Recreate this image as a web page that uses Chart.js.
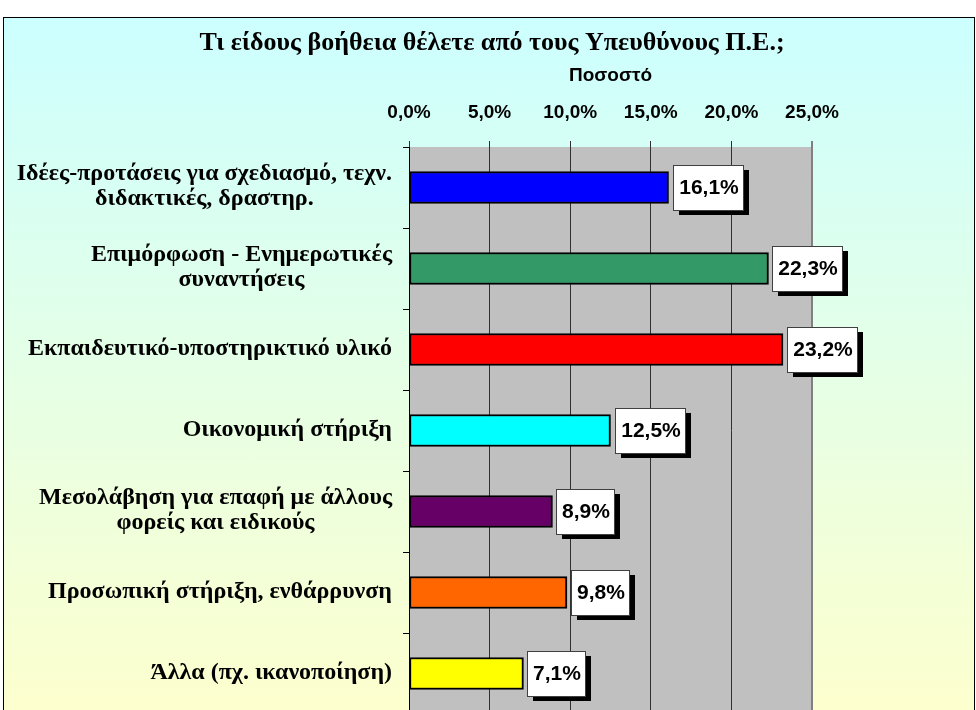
<!DOCTYPE html>
<html>
<head>
<meta charset="utf-8">
<script src="https://cdn.jsdelivr.net/npm/chart.js@4.4.1/dist/chart.umd.min.js"></script>
<style>
  html, body { margin: 0; padding: 0; background: #fff; overflow: hidden; width: 976px; height: 710px; }
  #frame {
    position: absolute; left: 3px; top: 17px; width: 970px; height: 720px;
    border: 1px solid #000;
    background: linear-gradient(to bottom, #CCFFFF 0%, #FFFFCC 100%);
  }
</style>
</head>
<body>
<div id="frame"><canvas id="view" width="970" height="720"></canvas></div>
<script>
// κατηγορίες (multi-line labels)
const categories = [
    ["Ιδέες-προτάσεις για σχεδιασμό, τεχν.", "διδακτικές, δραστηρ."],
    ["Επιμόρφωση - Ενημερωτικές", "συναντήσεις"],
    ["Εκπαιδευτικό-υποστηρικτικό υλικό"],
    ["Οικονομική στήριξη"],
    ["Μεσολάβηση για επαφή με άλλους", "φορείς και ειδικούς"],
    ["Προσωπική στήριξη, ενθάρρυνση"],
    ["Άλλα (πχ. ικανοποίηση)"]
];
// ποσοστά
const values = [16.1, 22.3, 23.2, 12.5, 8.9, 9.8, 7.1];
const barColors = ["#0000FF", "#339966", "#FF0000", "#00FFFF", "#660066", "#FF6600", "#FFFF00"];
const xTicks = [0, 5, 10, 15, 20, 25];
const chartTitle = "Τι είδους βοήθεια θέλετε από τους Υπευθύνους Π.Ε.;";

function pct(v) {
    return v.toFixed(1).replace('.', ',') + '%';
}

// γκρι φόντο στην περιοχή του γραφήματος + τίτλος στο κέντρο όλου του καμβά
const plotBg = {
    id: 'plotBg',
    beforeDraw(chart) {
        const a = chart.chartArea;
        const c = chart.ctx;
        c.save();
        c.fillStyle = '#C0C0C0';
        c.fillRect(a.left, a.top, a.right - a.left, a.bottom - a.top);
        c.font = 'bold 26px "Liberation Serif", "Times New Roman", serif';
        c.fillStyle = '#000';
        c.textAlign = 'center';
        c.textBaseline = 'middle';
        c.fillText(chartTitle, chart.width / 2 + 3, 25);
        c.restore();
    }
};

// ετικέτες κατηγοριών, κεντραρισμένες γραμμές, δεξιά στοιχισμένο μπλοκ
const catLabels = {
    id: 'catLabels',
    afterDraw(chart) {
        const c = chart.ctx;
        const ys = chart.scales.y;
        const rightEdge = ys.right - 17;
        c.save();
        c.font = 'bold 24px "Liberation Serif", "Times New Roman", serif';
        c.fillStyle = '#000';
        c.textBaseline = 'middle';
        c.textAlign = 'center';
        categories.forEach((lines, i) => {
            const yc = ys.getPixelForValue(i) - 1;
            let w = 0;
            lines.forEach(l => { w = Math.max(w, c.measureText(l).width); });
            const cx = rightEdge - w / 2;
            const lh = 25;
            const y0 = yc - (lines.length - 1) * lh / 2;
            lines.forEach((l, k) => c.fillText(l, cx, y0 + k * lh));
        });
        c.restore();
    }
};

// κουτιά με τις τιμές και σκιά
const valueBoxes = {
    id: 'valueBoxes',
    afterDatasetsDraw(chart) {
        const c = chart.ctx;
        const meta = chart.getDatasetMeta(0);
        c.save();
        c.font = 'bold 21px Arial, "Liberation Sans", sans-serif';
        c.textBaseline = 'middle';
        c.textAlign = 'center';
        meta.data.forEach((bar, i) => {
            const txt = pct(values[i]);
            const w = Math.round(c.measureText(txt).width) + 10;
            const h = 45;
            const x = Math.round(bar.x) + 4;
            const y = Math.round(bar.y) - 23;
            c.fillStyle = '#000';
            c.fillRect(x + 6, y + 5, w, h);
            c.fillStyle = '#fff';
            c.fillRect(x, y, w, h);
            c.strokeStyle = '#404040';
            c.lineWidth = 1;
            c.strokeRect(x + 0.5, y + 0.5, w, h);
            c.fillStyle = '#000';
            c.fillText(txt, x + w / 2 + 1, y + h / 2 + 1);
        });
        c.restore();
    }
};

const canvas = document.getElementById('view');
const ctx = canvas.getContext('2d');

const myChart = new Chart(ctx, {
    type: 'bar',
    data: {
        labels: categories,
        datasets: [{
            data: values,
            backgroundColor: barColors,
            borderColor: '#000',
            borderWidth: 2,
            borderSkipped: false,
            barThickness: 32
        }]
    },
    options: {
        indexAxis: 'y',
        responsive: false,
        animation: false,
        events: [],
        layout: { padding: { left: 0, right: 162, top: 36, bottom: 24 } },
        plugins: {
            legend: { display: false },
            tooltip: { enabled: false },
            title: { display: false }
        },
        scales: {
            x: {
                position: 'top',
                min: 0,
                max: 25,
                afterBuildTicks(scale) {
                    scale.ticks = xTicks.map(v => ({ value: v }));
                },
                ticks: {
                    color: '#000',
                    font: { family: 'Arial, "Liberation Sans", sans-serif', size: 19, weight: 'bold' },
                    padding: 17,
                    maxRotation: 0,
                    callback: v => pct(v)
                },
                title: {
                    display: true,
                    text: 'Ποσοστό',
                    color: '#000',
                    font: { family: 'Arial, "Liberation Sans", sans-serif', size: 19, weight: 'bold' },
                    padding: { top: 10, bottom: 0 }
                },
                grid: {
                    color: ctx2 => ctx2.index === xTicks.length - 1 ? '#808080' : '#303030',
                    lineWidth: ctx2 => ctx2.index === xTicks.length - 1 ? 2 : 1,
                    tickLength: 6,
                    drawTicks: true
                },
                border: { display: false },
                afterFit(scale) { scale.height = 93; }
            },
            y: {
                ticks: { display: false },
                grid: {
                    drawOnChartArea: false,
                    tickLength: 6,
                    color: '#000',
                    offset: true
                },
                border: { display: true, color: '#000', width: 1 },
                afterFit(scale) { scale.width = 405; }
            }
        }
    },
    plugins: [plotBg, valueBoxes, catLabels]
});
</script>
</body>
</html>
